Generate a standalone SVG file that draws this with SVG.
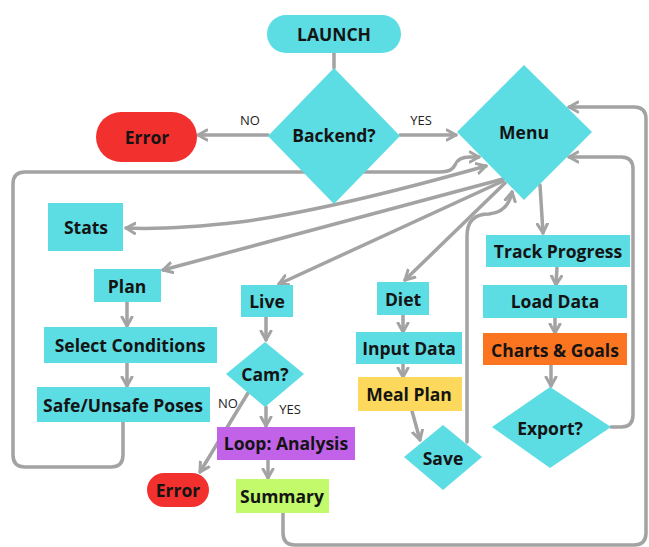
<svg xmlns="http://www.w3.org/2000/svg" width="649" height="547" viewBox="0 0 649 547">
  <defs>
    <marker id="arrow" markerUnits="userSpaceOnUse" markerWidth="14" markerHeight="14" refX="10" refY="6" orient="auto-start-reverse" viewBox="0 0 14 12">
      <path d="M1,1 L10,6 L1,11" fill="none" stroke="#a3a3a3" stroke-width="3" stroke-linecap="round" stroke-linejoin="round"/>
    </marker>
    <style>
      .wire { fill: none; stroke: #a3a3a3; stroke-width: 3.5; stroke-linecap: round; stroke-linejoin: round; }
      .arr { marker-end: url(#arrow); }
      .cyan { fill: #5cdce3; }
      .red { fill: #f2302e; }
      .orange { fill: #fb7420; }
      .yellow { fill: #fcd85c; }
      .purple { fill: #c162e9; }
      .green { fill: #c2fa6c; }
      .lbl { font-family: "Open Sans", "Liberation Sans", sans-serif; font-weight: 700; font-size: 17.5px; fill: #141414; text-anchor: middle; dominant-baseline: central; }
      .edge { font-family: "Open Sans", "Liberation Sans", sans-serif; font-weight: 400; font-size: 13px; fill: #222; text-anchor: middle; dominant-baseline: central; }
    </style>
  </defs>

  <rect width="649" height="547" fill="#ffffff"/>

  <!-- connectors -->
  <g id="connectors">
    <path class="wire" d="M334,52 V68" stroke-width="5"/>
    <path class="wire arr" d="M268,135 H198"/>
    <path class="wire arr" d="M400,135 H456"/>
    <!-- long return loop from Safe/Unsafe Poses -->
    <path class="wire arr" d="M123,422 V455 Q123,467 111,467 H25 Q13,467 13,455 V184 Q13,172 25,172 H440 Q452,172 455,165 Q458,157 470,157 L479,157"/>
    <!-- Menu <-> Stats -->
    <path class="wire arr" d="M486,166 Q330,210 240,222 Q170,230 126,228" style="marker-start:url(#arrow)"/>
    <path class="wire arr" d="M503,179 L163,270"/>
    <path class="wire arr" d="M503,181 L279,284"/>
    <path class="wire arr" d="M505,183 L405,280"/>
    <path class="wire arr" d="M540,185 L543,233"/>
    <path class="wire arr" d="M557,267 L556,285"/>
    <path class="wire arr" d="M555,318 V333"/>
    <path class="wire arr" d="M551,365 V386"/>
    <!-- Export? back to Menu -->
    <path class="wire arr" d="M611,427 H621 Q633,427 633,415 V169 Q633,157 621,157 H569"/>
    <!-- Summary outer loop back to Menu -->
    <path class="wire arr" d="M283,513 V533 Q283,545 295,545 H634 Q646,545 646,533 V119 Q646,107 634,107 H569"/>
    <!-- Diet chain -->
    <path class="wire arr" d="M403,315 V332"/>
    <path class="wire arr" d="M403,364 V377"/>
    <path class="wire arr" d="M412,411 L420,440"/>
    <!-- Save back to Menu -->
    <path class="wire arr" d="M467,442 V236 Q467,214 489,214 Q508,212 512,192"/>
    <!-- Live chain -->
    <path class="wire arr" d="M266,317 V340"/>
    <path class="wire arr" d="M266,407 V426"/>
    <path class="wire arr" d="M248,393 L200,472"/>
    <path class="wire arr" d="M268,460 V478"/>
    <path class="wire arr" d="M127,302 V326"/>
    <path class="wire arr" d="M127,363 V386"/>
  </g>

  <!-- edge labels -->
  <g id="edge-labels">
    <text class="edge" x="250" y="120">NO</text>
    <text class="edge" x="421" y="120">YES</text>
    <text class="edge" x="228" y="403">NO</text>
    <text class="edge" x="290" y="409">YES</text>
  </g>

  <!-- nodes -->
  <g id="launch">
    <rect class="cyan" x="267" y="15" width="134" height="38" rx="19"/>
    <text class="lbl" x="334" y="34" font-size="22.5">LAUNCH</text>
  </g>
  <g id="backend">
    <polygon class="cyan" points="334,68 400,136 334,204 268,136"/>
    <text class="lbl" x="334" y="135">Backend?</text>
  </g>
  <g id="error-top">
    <rect class="red" x="96" y="112" width="101" height="50" rx="25"/>
    <text class="lbl" x="147" y="137">Error</text>
  </g>
  <g id="menu">
    <polygon class="cyan" points="524,65 592,132 524,200 457,132"/>
    <text class="lbl" x="524" y="132">Menu</text>
  </g>
  <g id="stats">
    <rect class="cyan" x="48" y="203" width="75" height="48"/>
    <text class="lbl" x="86" y="227">Stats</text>
  </g>
  <g id="plan">
    <rect class="cyan" x="94" y="269" width="67" height="33"/>
    <text class="lbl" x="127" y="286">Plan</text>
  </g>
  <g id="select-conditions">
    <rect class="cyan" x="44" y="327" width="173" height="36"/>
    <text class="lbl" x="130" y="345">Select Conditions</text>
  </g>
  <g id="safe-unsafe-poses">
    <rect class="cyan" x="37" y="387" width="173" height="35"/>
    <text class="lbl" x="123" y="405">Safe/Unsafe Poses</text>
  </g>
  <g id="live">
    <rect class="cyan" x="241" y="285" width="52" height="32"/>
    <text class="lbl" x="267" y="301">Live</text>
  </g>
  <g id="cam">
    <polygon class="cyan" points="265,342 304,374 265,407 226,374"/>
    <text class="lbl" x="265" y="374">Cam?</text>
  </g>
  <g id="loop-analysis">
    <rect class="purple" x="217" y="427" width="138" height="33"/>
    <text class="lbl" x="286" y="443">Loop: Analysis</text>
  </g>
  <g id="summary">
    <rect class="green" x="236" y="479" width="93" height="34"/>
    <text class="lbl" x="282" y="496">Summary</text>
  </g>
  <g id="error-bottom">
    <rect class="red" x="147" y="473" width="62" height="34" rx="17"/>
    <text class="lbl" x="178" y="490">Error</text>
  </g>
  <g id="diet">
    <rect class="cyan" x="377" y="282" width="52" height="33"/>
    <text class="lbl" x="403" y="299">Diet</text>
  </g>
  <g id="input-data">
    <rect class="cyan" x="356" y="332" width="106" height="32"/>
    <text class="lbl" x="409" y="348">Input Data</text>
  </g>
  <g id="meal-plan">
    <rect class="yellow" x="358" y="377" width="104" height="34"/>
    <text class="lbl" x="409" y="394">Meal Plan</text>
  </g>
  <g id="save">
    <polygon class="cyan" points="443,425 482,457 443,490 404,457"/>
    <text class="lbl" x="443" y="458">Save</text>
  </g>
  <g id="track-progress">
    <rect class="cyan" x="486" y="235" width="144" height="32"/>
    <text class="lbl" x="558" y="251">Track Progress</text>
  </g>
  <g id="load-data">
    <rect class="cyan" x="483" y="285" width="144" height="33"/>
    <text class="lbl" x="555" y="301">Load Data</text>
  </g>
  <g id="charts-goals">
    <rect class="orange" x="483" y="333" width="144" height="32"/>
    <text class="lbl" x="555" y="350">Charts &amp; Goals</text>
  </g>
  <g id="export">
    <polygon class="cyan" points="550,387 611,427 550,468 492,427"/>
    <text class="lbl" x="550" y="428">Export?</text>
  </g>
</svg>
